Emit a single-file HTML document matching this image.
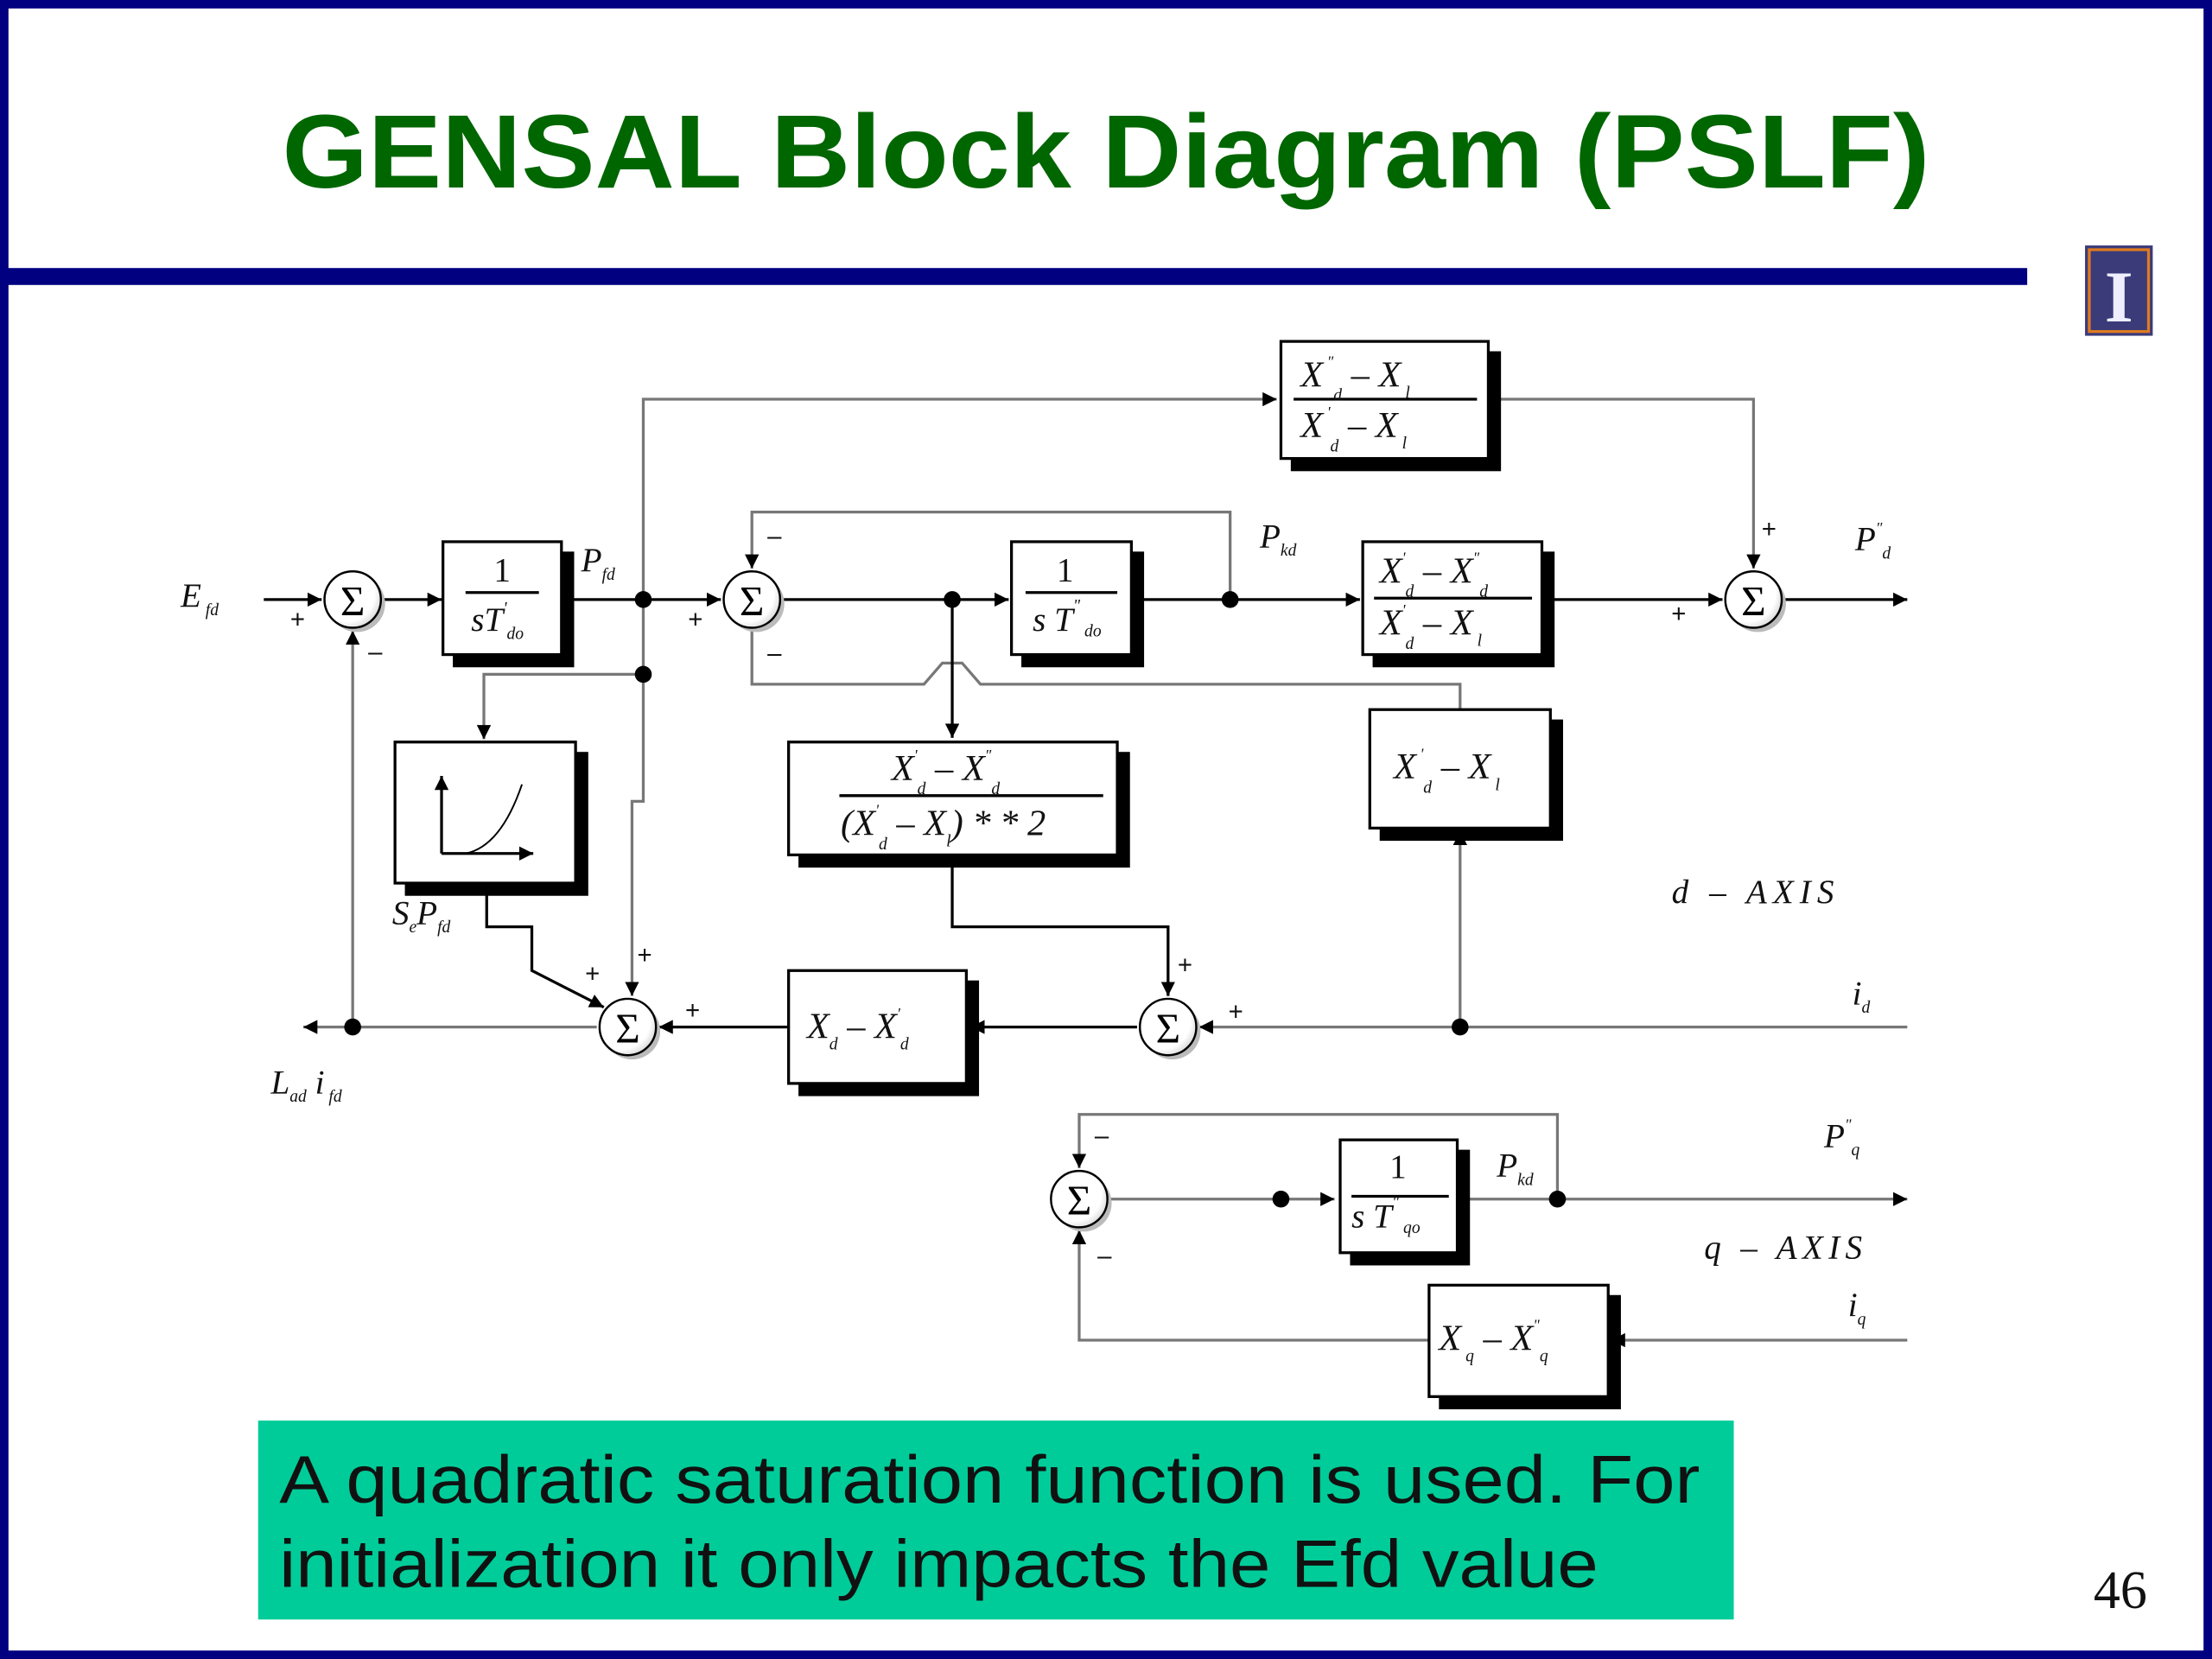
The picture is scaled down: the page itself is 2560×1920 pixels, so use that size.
<!DOCTYPE html>
<html><head><meta charset="utf-8"><style>
html,body{margin:0;padding:0;background:#fff;}
svg{display:block;}
.m{font-family:"Liberation Serif",serif;font-style:italic;fill:#111;}
</style></head><body>
<svg width="2560" height="1920" viewBox="0 0 1568 1176" xmlns="http://www.w3.org/2000/svg">
<defs>
<marker id="a" viewBox="0 0 10 10" refX="10" refY="5" markerWidth="10" markerHeight="10" markerUnits="userSpaceOnUse" orient="auto"><path d="M0,0 L10,5 L0,10 z" fill="#000"/></marker>
<radialGradient id="sg" cx="0.4" cy="0.4" r="0.7"><stop offset="0.7" stop-color="#fff"/><stop offset="1" stop-color="#ccc"/></radialGradient>
</defs>
<rect x="0" y="0" width="1568" height="1176" fill="#fff"/>
<rect x="3" y="3" width="1562" height="1170" fill="none" stroke="#000080" stroke-width="6"/>
<rect x="5" y="190" width="1432" height="12" fill="#000080"/>
<text x="200" y="133" textLength="1168" lengthAdjust="spacingAndGlyphs" font-family="Liberation Sans,sans-serif" font-weight="bold" font-size="74" fill="#006600">GENSAL Block Diagram (PSLF)</text>
<!-- logo -->
<rect x="1478" y="174" width="48" height="64" fill="#3b3b7a"/>
<rect x="1481" y="177" width="42" height="58" fill="none" stroke="#e07a1f" stroke-width="2"/>
<text x="1502" y="228" text-anchor="middle" font-family="Liberation Serif,serif" font-weight="bold" font-size="52" fill="#eef">I</text>

<!-- green note -->
<rect x="183" y="1007" width="1046" height="141" fill="#00cc99"/>
<text x="198" y="1065" textLength="1007" lengthAdjust="spacingAndGlyphs" font-family="Liberation Sans,sans-serif" font-size="48" fill="#111">A quadratic saturation function is used.  For</text>
<text x="198" y="1125" textLength="935" lengthAdjust="spacingAndGlyphs" font-family="Liberation Sans,sans-serif" font-size="48" fill="#111">initialization it only impacts the Efd value</text>
<text x="1503" y="1140" text-anchor="middle" font-family="Liberation Serif,serif" font-size="38" fill="#111">46</text>

<g stroke-width="2" fill="none">
<g stroke="#777">
<polyline points="456,425 456,283 905,283" marker-end="url(#a)"/>
<polyline points="1055,283 1243,283 1243,403" marker-end="url(#a)"/>
<polyline points="872,425 872,363 533,363 533,403" marker-end="url(#a)"/>
<polyline points="456,425 456,568 448,568 448,706" marker-end="url(#a)"/>
<polyline points="456,478 343,478 343,524" marker-end="url(#a)"/>
<polyline points="533,447 533,485 655,485 668,470 682,470 695,485 1035,485 1035,503"/>
<polyline points="1352,728 850,728" marker-end="url(#a)"/>
<polyline points="1035,728 1035,589" marker-end="url(#a)"/>
<polyline points="250,728 250,447" marker-end="url(#a)"/>
<polyline points="423,728 215,728" marker-end="url(#a)"/>
<polyline points="785,850 946,850" marker-end="url(#a)"/>
<polyline points="1104,850 1104,790 765,790 765,828" marker-end="url(#a)"/>
<polyline points="1352,950 1142,950" marker-end="url(#a)"/>
<polyline points="1013,950 765,950 765,872" marker-end="url(#a)"/>
<polyline points="1040,850 1352,850" marker-end="url(#a)"/>
</g>
<g stroke="#000">
<polyline points="187,425 228,425" marker-end="url(#a)"/>
<polyline points="271,425 313,425" marker-end="url(#a)"/>
<polyline points="398,425 511,425" marker-end="url(#a)"/>
<polyline points="555,425 715,425" marker-end="url(#a)"/>
<polyline points="675,425 675,523" marker-end="url(#a)"/>
<polyline points="802,425 964,425" marker-end="url(#a)"/>
<polyline points="1093,425 1221,425" marker-end="url(#a)"/>
<polyline points="1265,425 1352,425" marker-end="url(#a)"/>
<polyline points="675,606 675,657 828,657 828,706" marker-end="url(#a)"/>
<polyline points="806,728 688,728" marker-end="url(#a)"/>
<polyline points="559,728 467,728" marker-end="url(#a)"/>
<polyline points="345,632 345,657 377,657 377,688 428,714" marker-end="url(#a)"/>
</g>
</g>
<g fill="#000">
<circle cx="456" cy="425" r="6"/><circle cx="456" cy="478" r="6"/>
<circle cx="675" cy="425" r="6"/><circle cx="872" cy="425" r="6"/>
<circle cx="1035" cy="728" r="6"/><circle cx="250" cy="728" r="6"/>
<circle cx="908" cy="850" r="6"/><circle cx="1104" cy="850" r="6"/>
</g>
<g font-family="Liberation Serif,serif" font-size="30" text-anchor="middle">
<g><circle cx="253" cy="428" r="20" fill="#bbb"/><circle cx="250" cy="425" r="20" fill="url(#sg)" stroke="#000" stroke-width="1.5"/><text x="250" y="436">Σ</text></g>
<g><circle cx="536" cy="428" r="20" fill="#bbb"/><circle cx="533" cy="425" r="20" fill="url(#sg)" stroke="#000" stroke-width="1.5"/><text x="533" y="436">Σ</text></g>
<g><circle cx="1246" cy="428" r="20" fill="#bbb"/><circle cx="1243" cy="425" r="20" fill="url(#sg)" stroke="#000" stroke-width="1.5"/><text x="1243" y="436">Σ</text></g>
<g><circle cx="448" cy="731" r="20" fill="#bbb"/><circle cx="445" cy="728" r="20" fill="url(#sg)" stroke="#000" stroke-width="1.5"/><text x="445" y="739">Σ</text></g>
<g><circle cx="831" cy="731" r="20" fill="#bbb"/><circle cx="828" cy="728" r="20" fill="url(#sg)" stroke="#000" stroke-width="1.5"/><text x="828" y="739">Σ</text></g>
<g><circle cx="768" cy="853" r="20" fill="#bbb"/><circle cx="765" cy="850" r="20" fill="url(#sg)" stroke="#000" stroke-width="1.5"/><text x="765" y="861">Σ</text></g>
</g>
<g stroke="#000" stroke-width="2">
<rect x="322" y="392" width="84" height="80" fill="#000"/><rect x="314" y="384" width="84" height="80" fill="#fff"/>
<rect x="725" y="392" width="85" height="80" fill="#000"/><rect x="717" y="384" width="85" height="80" fill="#fff"/>
<rect x="974" y="392" width="127" height="80" fill="#000"/><rect x="966" y="384" width="127" height="80" fill="#fff"/>
<rect x="916" y="250" width="147" height="83" fill="#000"/><rect x="908" y="242" width="147" height="83" fill="#fff"/>
<rect x="288" y="534" width="128" height="100" fill="#000"/><rect x="280" y="526" width="128" height="100" fill="#fff"/>
<rect x="567" y="534" width="233" height="80" fill="#000"/><rect x="559" y="526" width="233" height="80" fill="#fff"/>
<rect x="979" y="511" width="128" height="84" fill="#000"/><rect x="971" y="503" width="128" height="84" fill="#fff"/>
<rect x="567" y="696" width="126" height="80" fill="#000"/><rect x="559" y="688" width="126" height="80" fill="#fff"/>
<rect x="958" y="816" width="83" height="80" fill="#000"/><rect x="950" y="808" width="83" height="80" fill="#fff"/>
<rect x="1021" y="919" width="127" height="79" fill="#000"/><rect x="1013" y="911" width="127" height="79" fill="#fff"/>
<line x1="330" y1="420" x2="382" y2="420"/>
<line x1="727" y1="420" x2="792" y2="420"/>
<line x1="974" y1="424" x2="1086" y2="424"/>
<line x1="917" y1="283" x2="1047" y2="283"/>
<line x1="595" y1="564" x2="782" y2="564"/>
<line x1="958" y1="848" x2="1027" y2="848"/>
</g>
<g stroke="#000" stroke-width="2" fill="none">
<polyline points="313,605 313,550" marker-end="url(#a)"/>
<polyline points="313,605 378,605" marker-end="url(#a)"/>
<path d="M330,605 Q355,600 370,556" stroke-width="1.2"/>
</g>
<g class="m" font-size="24">
<text x="356" y="412" text-anchor="middle" font-style="normal">1</text>
<text x="334" y="447">sT<tspan font-size="12" dy="-12">'</tspan><tspan font-size="12" dy="18">do</tspan></text>
<text x="755" y="412" text-anchor="middle" font-style="normal">1</text>
<text x="732" y="447">s T<tspan font-size="12" dy="-14">"</tspan><tspan font-size="12" dy="18"> do</tspan></text>
<text x="922" y="274" font-size="26">X<tspan font-size="11" dy="-14"> "</tspan><tspan font-size="12" dy="24">d</tspan><tspan dy="-10">  –  X</tspan><tspan font-size="12" dy="8"> l</tspan></text>
<text x="922" y="310" font-size="26">X<tspan font-size="11" dy="-14"> '</tspan><tspan font-size="12" dy="24">d</tspan><tspan dy="-10">  –  X</tspan><tspan font-size="12" dy="8"> l</tspan></text>
<text x="978" y="413" font-size="26">X<tspan font-size="11" dy="-14">'</tspan><tspan font-size="12" dy="24">d</tspan><tspan dy="-10"> – X</tspan><tspan font-size="11" dy="-14">"</tspan><tspan font-size="12" dy="24">d</tspan></text>
<text x="978" y="450" font-size="26">X<tspan font-size="11" dy="-14">'</tspan><tspan font-size="12" dy="24">d</tspan><tspan dy="-10"> – X</tspan><tspan font-size="12" dy="8"> l</tspan></text>
<text x="632" y="553" font-size="26">X<tspan font-size="11" dy="-14">'</tspan><tspan font-size="12" dy="24">d</tspan><tspan dy="-10"> – X</tspan><tspan font-size="11" dy="-14">"</tspan><tspan font-size="12" dy="24">d</tspan></text>
<text x="596" y="592" font-size="26">(X<tspan font-size="11" dy="-14">'</tspan><tspan font-size="12" dy="24">d</tspan><tspan dy="-10"> – X</tspan><tspan font-size="12" dy="8">l</tspan><tspan dy="-8">) * * 2</tspan></text>
<text x="988" y="552" font-size="26">X<tspan font-size="11" dy="-14"> '</tspan><tspan font-size="12" dy="24">d</tspan><tspan dy="-10">  –  X</tspan><tspan font-size="12" dy="8"> l</tspan></text>
<text x="572" y="736" font-size="26">X<tspan font-size="12" dy="8">d</tspan><tspan dy="-8"> – X</tspan><tspan font-size="11" dy="-14">'</tspan><tspan font-size="12" dy="22">d</tspan></text>
<text x="991" y="835" text-anchor="middle" font-style="normal">1</text>
<text x="958" y="870">s T<tspan font-size="12" dy="-14">"</tspan><tspan font-size="12" dy="18"> qo</tspan></text>
<text x="1020" y="957" font-size="26">X<tspan font-size="12" dy="8"> q</tspan><tspan dy="-8">  –  X</tspan><tspan font-size="11" dy="-14">"</tspan><tspan font-size="12" dy="22">q</tspan></text>
</g>
<g class="m" font-size="24">
<text x="128" y="430">E<tspan font-size="12" dy="6"> fd</tspan></text>
<text x="412" y="405">P<tspan font-size="12" dy="6">fd</tspan></text>
<text x="893" y="388">P<tspan font-size="12" dy="6">kd</tspan></text>
<text x="1315" y="390">P<tspan font-size="11" dy="-12">"</tspan><tspan font-size="12" dy="18">d</tspan></text>
<text x="278" y="655">S<tspan font-size="12" dy="6">e</tspan><tspan dy="-6">P</tspan><tspan font-size="12" dy="6">fd</tspan></text>
<text x="192" y="775">L<tspan font-size="12" dy="6">ad</tspan><tspan dy="-6">  i</tspan><tspan font-size="12" dy="6"> fd</tspan></text>
<text x="1185" y="640" textLength="115">d – AXIS</text>
<text x="1313" y="712">i<tspan font-size="12" dy="6">d</tspan></text>
<text x="1061" y="834">P<tspan font-size="12" dy="6">kd</tspan></text>
<text x="1293" y="813">P<tspan font-size="11" dy="-12">"</tspan><tspan font-size="12" dy="18">q</tspan></text>
<text x="1208" y="892" textLength="112">q – AXIS</text>
<text x="1310" y="933">i<tspan font-size="12" dy="6">q</tspan></text>
</g>
<g font-family="Liberation Sans,sans-serif" font-size="18" fill="#111" text-anchor="middle">
<text x="211" y="445">+</text><text x="266" y="468">–</text>
<text x="493" y="445">+</text><text x="549" y="386">–</text><text x="549" y="469">–</text>
<text x="1254" y="381">+</text><text x="1190" y="441">+</text>
<text x="420" y="696">+</text><text x="457" y="683">+</text><text x="491" y="722">+</text>
<text x="840" y="690">+</text><text x="876" y="723">+</text>
<text x="781" y="811">–</text><text x="783" y="896">–</text>
</g>
</svg>
</body></html>
